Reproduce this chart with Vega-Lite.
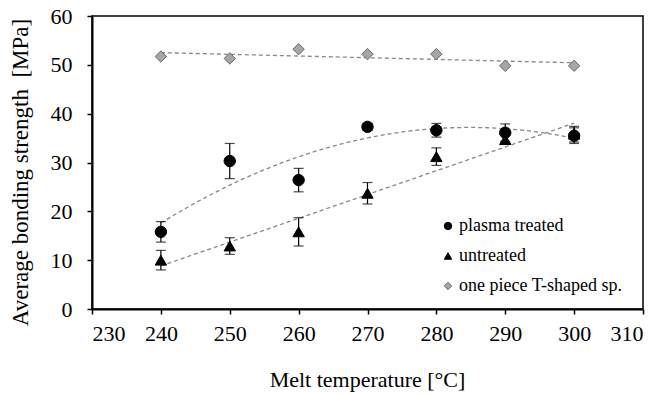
{
  "$schema": "https://vega.github.io/schema/vega-lite/v6.json",
  "width": 551,
  "height": 293,
  "autosize": {"type": "none"},
  "padding": {"left": 92, "top": 16, "right": 21, "bottom": 86},
  "background": "white",
  "config": {
    "font": "Liberation Serif",
    "view": {"stroke": "black", "strokeWidth": 1.5},
    "axis": {
      "grid": false,
      "domainColor": "black",
      "domainWidth": 2,
      "tickColor": "black",
      "tickWidth": 1.5,
      "tickSize": 5,
      "labelColor": "black",
      "labelFont": "Liberation Serif",
      "labelFontSize": 22,
      "titleColor": "black",
      "titleFont": "Liberation Serif",
      "titleFontSize": 22,
      "titleFontWeight": "normal"
    },
    "legend": {
      "labelFont": "Liberation Serif",
      "labelFontSize": 18,
      "labelColor": "black",
      "labelLimit": 300
    }
  },
  "data": {
    "values": [
      {"t": 240, "s": 15.8, "e": 2.1, "series": "plasma treated"},
      {"t": 250, "s": 30.3, "e": 3.6, "series": "plasma treated"},
      {"t": 260, "s": 26.4, "e": 2.4, "series": "plasma treated"},
      {"t": 270, "s": 37.3, "e": 0.7, "series": "plasma treated"},
      {"t": 280, "s": 36.6, "e": 1.4, "series": "plasma treated"},
      {"t": 290, "s": 36.1, "e": 1.8, "series": "plasma treated"},
      {"t": 300, "s": 35.5, "e": 1.6, "series": "plasma treated"},
      {"t": 240, "s": 10.0, "e": 2.0, "series": "untreated"},
      {"t": 250, "s": 12.9, "e": 1.7, "series": "untreated"},
      {"t": 260, "s": 15.8, "e": 2.9, "series": "untreated"},
      {"t": 270, "s": 23.7, "e": 2.2, "series": "untreated"},
      {"t": 280, "s": 31.2, "e": 1.8, "series": "untreated"},
      {"t": 290, "s": 34.7, "e": 1.0, "series": "untreated"},
      {"t": 300, "s": 35.8, "e": 1.6, "series": "untreated"},
      {"t": 240, "s": 51.7, "e": 0, "series": "one piece T-shaped sp."},
      {"t": 250, "s": 51.3, "e": 0, "series": "one piece T-shaped sp."},
      {"t": 260, "s": 53.2, "e": 0, "series": "one piece T-shaped sp."},
      {"t": 270, "s": 52.2, "e": 0, "series": "one piece T-shaped sp."},
      {"t": 280, "s": 52.2, "e": 0, "series": "one piece T-shaped sp."},
      {"t": 290, "s": 49.8, "e": 0, "series": "one piece T-shaped sp."},
      {"t": 300, "s": 49.8, "e": 0, "series": "one piece T-shaped sp."}
    ]
  },
  "encoding": {
    "x": {
      "field": "t",
      "type": "quantitative",
      "scale": {"domain": [230, 310], "nice": false, "zero": false},
      "axis": {
        "title": "Melt temperature [°C]",
        "values": [230, 240, 250, 260, 270, 280, 290, 300, 310],
        "labelPadding": 9,
        "titleX": 275,
        "titleY": 77,
        "titleBaseline": "alphabetic",
        "titleAlign": "center"
      }
    },
    "y": {
      "field": "s",
      "type": "quantitative",
      "scale": {"domain": [0, 60], "nice": false},
      "axis": {
        "title": "Average bonding strength \u00a0[MPa]",
        "values": [0, 10, 20, 30, 40, 50, 60],
        "labelPadding": 15,
        "titleX": -72,
        "titleY": 156,
        "titleFontSize": 23,
        "titleAngle": -90,
        "titleBaseline": "middle",
        "titleAlign": "center"
      }
    }
  },
  "layer": [
    {
      "transform": [
        {"filter": "datum.series === 'plasma treated'"},
        {"regression": "s", "on": "t", "method": "poly", "order": 2, "extent": [240, 300]}
      ],
      "mark": {"type": "line", "color": "#888888", "strokeDash": [4, 3], "strokeWidth": 1.3}
    },
    {
      "transform": [
        {"filter": "datum.series === 'untreated'"},
        {"regression": "s", "on": "t", "method": "linear", "extent": [240, 300]}
      ],
      "mark": {"type": "line", "color": "#888888", "strokeDash": [4, 3], "strokeWidth": 1.3}
    },
    {
      "transform": [
        {"filter": "datum.series === 'one piece T-shaped sp.'"},
        {"regression": "s", "on": "t", "method": "linear", "extent": [240, 300]}
      ],
      "mark": {"type": "line", "color": "#888888", "strokeDash": [4, 3], "strokeWidth": 1.3}
    },
    {
      "transform": [{"filter": "datum.e > 0"}],
      "mark": {"type": "errorbar", "color": "black", "thickness": 1.2, "ticks": {"size": 10, "color": "black", "thickness": 1.2}},
      "encoding": {
        "yError": {"field": "e"}
      }
    },
    {
      "mark": {"type": "point", "filled": true, "opacity": 1, "size": 130, "strokeWidth": 1},
      "encoding": {
        "shape": {
          "field": "series",
          "type": "nominal",
          "scale": {
            "domain": ["plasma treated", "untreated", "one piece T-shaped sp."],
            "range": ["circle", "triangle-up", "diamond"]
          },
          "legend": {
            "title": null,
            "orient": "none",
            "legendX": 347,
            "legendY": 201,
            "symbolSize": 55,
            "symbolStrokeWidth": 1,
            "labelOffset": 2,
            "rowPadding": 12,
            "labelFontSize": 18,
            "labelLimit": 300
          }
        },
        "fill": {
          "field": "series",
          "type": "nominal",
          "scale": {
            "domain": ["plasma treated", "untreated", "one piece T-shaped sp."],
            "range": ["#000000", "#000000", "#a6a6a6"]
          }
        },
        "stroke": {
          "field": "series",
          "type": "nominal",
          "scale": {
            "domain": ["plasma treated", "untreated", "one piece T-shaped sp."],
            "range": ["#000000", "#000000", "#6a6a6a"]
          }
        }
      }
    }
  ]
}
